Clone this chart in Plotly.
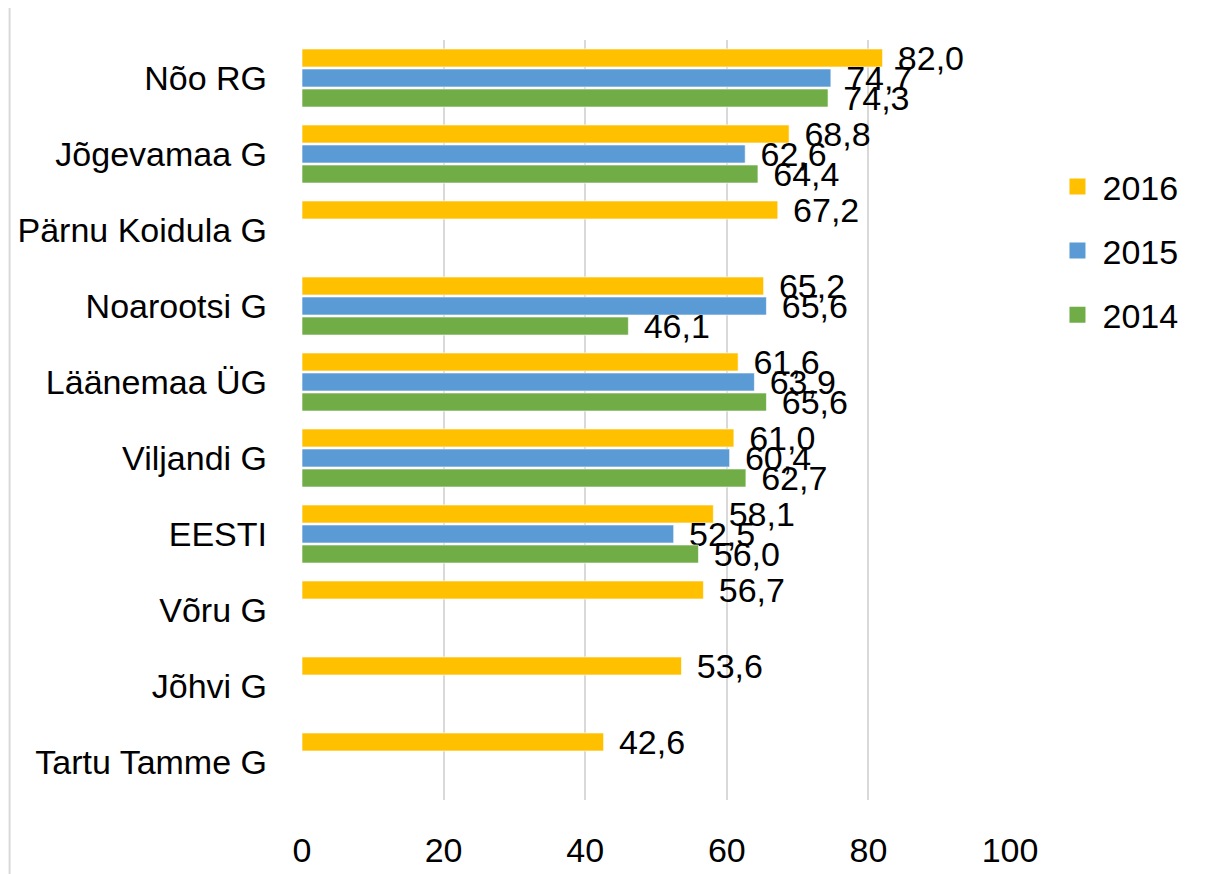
import plotly.graph_objects as go

categories = ["Nõo RG", "Jõgevamaa G", "Pärnu Koidula G", "Noarootsi G", "Läänemaa ÜG",
              "Viljandi G", "EESTI", "Võru G", "Jõhvi G", "Tartu Tamme G"]
v2016 = [82.0, 68.8, 67.2, 65.2, 61.6, 61.0, 58.1, 56.7, 53.6, 42.6]
v2015 = [74.7, 62.6, None, 65.6, 63.9, 60.4, 52.5, None, None, None]
v2014 = [74.3, 64.4, None, 46.1, 65.6, 62.7, 56.0, None, None, None]
x_ticks = [0, 20, 40, 60, 80, 100]

series = [("2016", v2016, "#FFC000"), ("2015", v2015, "#5B9BD5"), ("2014", v2014, "#70AD47")]

FONT = "Liberation Sans"
FS = 34
fig = go.Figure()
for i, (name, vals, col) in enumerate(series):
    fig.add_trace(go.Bar(
        y=categories, x=vals, name=name, orientation="h",
        marker=dict(color=col, line=dict(color="rgba(255,255,255,0.6)", width=1)),
        text=[None if v is None else "\u00a0\u200a" + f"{v:.1f}".replace(".", ",") for v in vals],
        textposition="outside", constraintext="none", cliponaxis=False,
        textfont=dict(family=FONT, size=FS, color="#000000"),
        showlegend=False,
    ))
for i, (name, vals, col) in enumerate(series):
    fig.add_trace(go.Scatter(
        x=[None], y=[None], mode="markers", name=name,
        marker=dict(symbol="square", size=20, color=col),
        legendgroup=name, showlegend=True,
    ))

fig.update_layout(
    width=1206, height=874,
    margin=dict(l=294, r=204, t=32, b=82, autoexpand=False),
    paper_bgcolor="white", plot_bgcolor="white",
    barmode="group", bargap=0.21, bargroupgap=0.1,
    font=dict(family=FONT, size=FS, color="#000000"),
    legend=dict(x=1.06, y=0.845, xanchor="left", yanchor="top",
                font=dict(family=FONT, size=FS), tracegroupgap=17,
                itemwidth=40, bgcolor="rgba(0,0,0,0)"),
    showlegend=True,
    shapes=[dict(type="line", xref="paper", yref="paper",
                 x0=-0.413, x1=-0.413, y0=-0.12, y1=1.06,
                 line=dict(color="#d9d9d9", width=2))],
)
fig.update_xaxes(range=[0, 100], tickvals=x_ticks, showgrid=True, gridcolor="#d9d9d9",
                 gridwidth=2, zeroline=False, showline=False, ticks="",
                 ticklabelstandoff=27, tickfont=dict(family=FONT, size=FS),
                 automargin=False, fixedrange=True)
fig.update_yaxes(autorange="reversed", showgrid=False, zeroline=False, showline=False,
                 ticks="", ticklabelstandoff=34, tickfont=dict(family=FONT, size=FS),
                 automargin=False, fixedrange=True)

fig.write_html("out.html")
